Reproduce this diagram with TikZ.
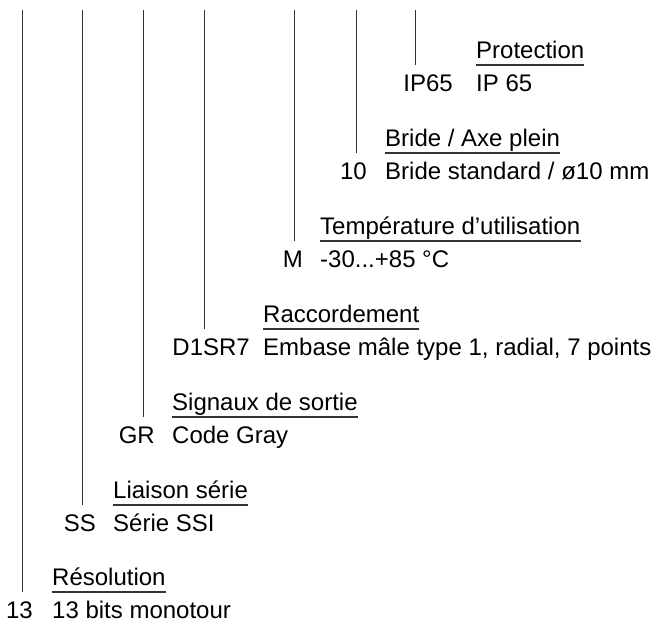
\documentclass[tikz,border=0pt]{standalone}
\usepackage{fontspec}
\setmainfont{Liberation Sans}
\usetikzlibrary{calc}
\newcommand{\myentry}[8]{%
  \node[ttl] (t#1) at (#4,#3-7) {#7};
  \node[dsc] (d#1) at (#4,#3+26) {#8};
  \node[cod] (c#1) at (#5,#3+26) {#6};
  \coordinate (top#1) at (#2,10);
  \coordinate (bot#1) at (#2,#3);
  \draw[vline] (top#1) -- (bot#1);
  \draw[uline] ($(t#1.base west)+(0,7)$) -- ($(t#1.base east)+(0,7)$);
}
\begin{document}
\begin{tikzpicture}[x=1pt,y=-1pt,
  txt/.style={inner sep=0pt,font=\fontsize{24}{28}\selectfont,text depth=0pt},
  ttl/.style={txt,anchor=base west},
  dsc/.style={txt,anchor=base west},
  cod/.style={txt,anchor=base east},
  vline/.style={draw=black!80,line width=0.9pt},
  uline/.style={draw=black!80,line width=1.1pt}]
\useasboundingbox (0,0) rectangle (654,621);
\myentry{a}{22}{592}{52}{33}{13}{Résolution}{13 bits monotour}
\myentry{b}{82}{505}{113}{96}{SS}{Liaison série}{Série SSI}
\myentry{c}{143}{417}{172}{155}{GR}{Signaux de sortie}{Code Gray}
\myentry{d}{204}{329}{263}{250}{D1SR7}{Raccordement}{Embase mâle type 1, radial, 7 points}
\myentry{e}{294}{241}{320}{303}{M}{Température d’utilisation}{-30...+85 °C}
\myentry{f}{356}{153}{385}{367}{10}{Bride / Axe plein}{Bride standard / ø10 mm}
\myentry{g}{415}{65}{476}{453}{IP65}{Protection}{IP 65}
\end{tikzpicture}
\end{document}
